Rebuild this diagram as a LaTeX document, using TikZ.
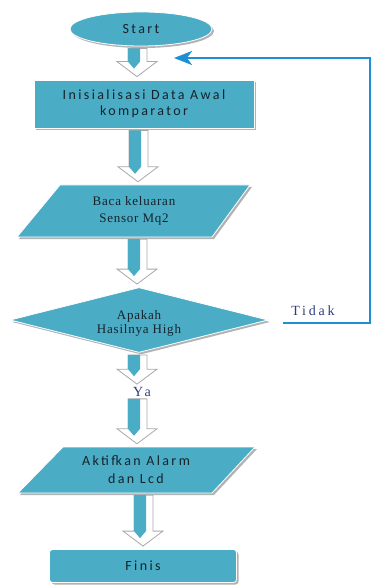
\documentclass[tikz,border=0pt]{standalone}
\usepackage{fontspec}
\setmainfont{Liberation Serif}
\newfontfamily\calfont[LetterSpace=17]{Carlito}
\newfontfamily\wideserif[LetterSpace=6]{Liberation Serif}
\newfontfamily\answerfont[LetterSpace=20]{Liberation Serif}
\usetikzlibrary{shapes.geometric,shadows,calc,arrows.meta}

\definecolor{aqua}{HTML}{4BACC6}
\definecolor{loopblue}{HTML}{1E8FD5}
\definecolor{darktext}{HTML}{15232B}
\definecolor{labelnavy}{HTML}{2E3C7C}
\definecolor{rimgray}{HTML}{A9A9A9}

\tikzset{
  flowbox/.style={fill=aqua, draw=white, line width=0.8pt, text=darktext,
    align=center, inner sep=0pt,
    drop shadow={shadow xshift=2pt, shadow yshift=-2pt, fill=black!60, opacity=0.5}},
  textonly/.style={text=darktext, align=center, inner sep=0pt},
  sanstext/.style={font=\calfont\fontsize{14}{18}\selectfont},
  seriftext/.style={font=\wideserif\fontsize{13}{17}\selectfont},
  answer/.style={text=labelnavy, font=\answerfont\fontsize{14}{15}\selectfont, inner sep=0pt},
  loopline/.style={draw=loopblue, line width=2.6pt, -{Stealth[length=18pt, width=14pt, inset=5pt]}}
}

% hollow block arrow with a blue core, from the bottom of one shape to the top of the next
\newcommand{\flowarrow}[3][0]{%
  \filldraw[fill=white, draw=rimgray, line width=0.8pt]
    let \p1=($(#2)+(#1,2)$), \p2=($(#3)+(#1,-3)$) in
    (\x1-9,\y1) -- (\x1+10,\y1) -- (\x1+10,\y2+15) -- (\x1+20,\y2+15)
    -- (\x1,\y2) -- (\x1-20,\y2+15) -- (\x1-9,\y2+15) -- cycle;
  \fill[aqua]
    let \p1=($(#2)+(#1,2)$), \p2=($(#3)+(#1,-3)$) in
    (\x1-9,\y1) -- (\x1+3,\y1) -- (\x1+3,\y2+15) -- (\x1-3,\y2+8)
    -- (\x1-9,\y2+15) -- cycle;
}

\begin{document}
\begin{tikzpicture}[x=1pt, y=-1pt]
\useasboundingbox (0,0) rectangle (373,585);

\node[flowbox, sanstext, ellipse, minimum width=142, minimum height=34] (start) at (141,29) {Start};
\node[flowbox, sanstext, rectangle, minimum width=220, minimum height=48] (init) at (144,104)
  {Inisialisasi Data Awal\\[-2pt]komparator};

% input/output parallelograms
\path[flowbox] (60,185) -- (250,185) -- (212,237) -- (17,237) -- cycle;
\node[textonly, seriftext, minimum width=150, minimum height=52] (read) at (134,211)
  {Baca keluaran\\Sensor Mq2};

\node[flowbox, diamond, minimum width=258, minimum height=65,
  label={[textonly, seriftext, yshift=-3pt]center:Apakah\\[-3pt]Hasilnya High}] (ask) at (139,320) {};
\node[answer] (yes) at (142,392) {Ya};

\path[flowbox] (63,447) -- (255,447) -- (212,493) -- (18,493) -- cycle;
\node[textonly, sanstext, minimum width=150, minimum height=46] (alarm) at (136,470)
  {Aktifkan Alarm\\dan Lcd};

\node[flowbox, sanstext, rectangle, rounded corners=3pt, minimum width=187, minimum height=33]
  (finish) at (143,566) {Finis};

%%%%%%%%%%%%%%%%%%%%%%%%%%%%%%%%%%%%%%%%

\flowarrow[-4]{start.south}{init.north}
\flowarrow[-6]{init.south}{read.north}
\flowarrow[3]{read.south}{ask.north}
\flowarrow[-2]{ask.south}{yes.north}
\flowarrow[-5]{yes.south}{alarm.north}
\flowarrow[7]{alarm.south}{finish.north}

\node[answer] (no) at (313,311) {Tidak};
\coordinate (loopout) at (283,323);
\coordinate (loopcorner) at (370,58);
\coordinate (loopin) at (174,58);
\draw[loopline] (loopout) -| (loopcorner) -- (loopin);

\end{tikzpicture}
\end{document}
